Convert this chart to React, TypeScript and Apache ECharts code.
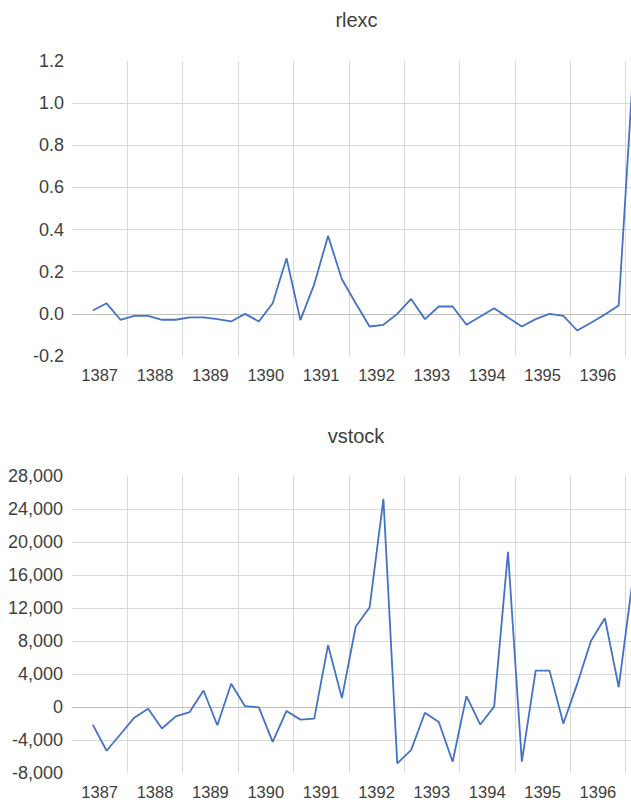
import React, { useEffect, useRef } from "react";
import * as echarts from "echarts";

const years = ["1387", "1388", "1389", "1390", "1391", "1392", "1393", "1394", "1395", "1396", "1397"];
const quarters = years.flatMap((y) => ["Q1", "Q2", "Q3", "Q4"].map((q) => `${y} ${q}`));

// series start at 1387 Q2 (1387 Q1 has no observation)
const rlexc: (number | null)[] = [
  null,
  0.016, 0.05, -0.028,
  -0.01, -0.01, -0.028, -0.028,
  -0.017, -0.017, -0.025, -0.036,
  0.0, -0.036, 0.05, 0.264,
  -0.03, 0.14, 0.37, 0.164,
  0.05, -0.06, -0.052, 0.0,
  0.071, -0.025, 0.035, 0.035,
  -0.052, -0.013, 0.027, -0.017,
  -0.06, -0.025, 0.0, -0.01,
  -0.079, -0.042, -0.003, 0.04,
  1.11,
];

const vstock: (number | null)[] = [
  null,
  -2130, -5300, -3300,
  -1290, -200, -2610, -1130,
  -610, 2000, -2210, 2810,
  100, -50, -4220, -480,
  -1530, -1410, 7500, 1080,
  9760, 12050, 25220, -6830,
  -5230, -690, -1810, -6630,
  1320, -2130, 50, 18800,
  -6630, 4410, 4410, -2010,
  2800, 8030, 10760, 2410,
  15300,
];

const TEXT = "#404040";
const GRID = "#D9D9D9";
const SANS = "'Liberation Sans', Arial, sans-serif";

function quarterAxis(gridIndex: number) {
  return {
    type: "category",
    gridIndex,
    data: quarters,
    boundaryGap: true,
    axisLine: { show: true, onZero: true, lineStyle: { color: "#BFBFBF", width: 1 } },
    axisTick: { show: false },
    axisLabel: { show: false },
    splitLine: { show: false },
  };
}

function yearAxis(gridIndex: number) {
  return {
    type: "category",
    gridIndex,
    data: years,
    boundaryGap: true,
    position: "bottom",
    axisLine: { show: false, onZero: false },
    axisTick: { show: false },
    axisLabel: {
      show: true,
      color: TEXT,
      fontFamily: SANS,
      fontSize: 16.5,
      margin: 10,
      interval: (i: number) => i < years.length - 1,
    },
    splitLine: {
      show: true,
      interval: (i: number) => i !== 0,
      lineStyle: { color: GRID, width: 1 },
    },
  };
}

export default function App() {
  const ref = useRef<HTMLDivElement>(null);

  useEffect(() => {
    if (!ref.current) return;
    const chart = echarts.init(ref.current, undefined, { renderer: "svg" });
    chart.setOption({
      animation: false,
      backgroundColor: "#ffffff",
      graphic: [
        {
          type: "text",
          x: 356.5,
          y: 19.5,
          style: { text: "rlexc", fill: TEXT, font: `20px ${SANS}`, align: "center", verticalAlign: "middle" },
        },
        {
          type: "text",
          x: 356,
          y: 436,
          style: { text: "vstock", fill: TEXT, font: `20px ${SANS}`, align: "center", verticalAlign: "middle" },
        },
      ],
      grid: [
        { left: 72, top: 61, width: 609, height: 295, containLabel: false },
        { left: 72, top: 476, width: 609, height: 299, containLabel: false },
      ],
      xAxis: [quarterAxis(0), yearAxis(0), quarterAxis(1), yearAxis(1)],
      yAxis: [
        {
          type: "value",
          gridIndex: 0,
          min: -0.2,
          max: 1.2,
          interval: 0.2,
          axisLine: { show: false },
          axisTick: { show: false },
          axisLabel: {
            color: TEXT,
            fontFamily: SANS,
            fontSize: 18,
            margin: 8,
            formatter: (v: number) => v.toFixed(1),
          },
          splitLine: { show: true, showMinLine: false, showMaxLine: false, lineStyle: { color: GRID, width: 1 } },
        },
        {
          type: "value",
          gridIndex: 1,
          min: -8000,
          max: 28000,
          interval: 4000,
          axisLine: { show: false },
          axisTick: { show: false },
          axisLabel: {
            color: TEXT,
            fontFamily: SANS,
            fontSize: 18,
            margin: 9,
            formatter: (v: number) => v.toLocaleString("en-US"),
          },
          splitLine: { show: true, showMinLine: false, showMaxLine: false, lineStyle: { color: GRID, width: 1 } },
        },
      ],
      series: [
        {
          name: "rlexc",
          type: "line",
          xAxisIndex: 0,
          yAxisIndex: 0,
          data: rlexc,
          symbol: "none",
          lineStyle: { color: "#4472C4", width: 1.8 },
        },
        {
          name: "vstock",
          type: "line",
          xAxisIndex: 2,
          yAxisIndex: 1,
          data: vstock,
          symbol: "none",
          lineStyle: { color: "#4472C4", width: 1.8 },
        },
      ],
    });
    return () => chart.dispose();
  }, []);

  return (
    <div
      style={{
        position: "fixed",
        left: 0,
        top: 0,
        width: 631,
        height: 800,
        overflow: "hidden",
        background: "#ffffff",
      }}
    >
      <div ref={ref} style={{ width: 700, height: 800 }} />
    </div>
  );
}
